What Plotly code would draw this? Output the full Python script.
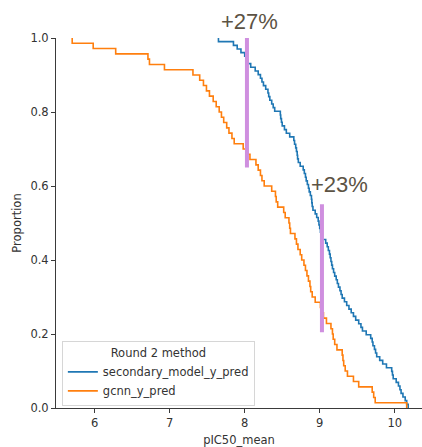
import numpy as np
import plotly.graph_objects as go

# ---- data ----
series_names = ["secondary_model_y_pred", "gcnn_y_pred"]
series_colors = ["#1f77b4", "#ff7f0e"]

secondary_model_y_pred = [
    7.65, 7.85, 7.90, 7.95, 8.00, 8.02, 8.04, 8.08, 8.14, 8.18,
    8.21, 8.23, 8.25, 8.28, 8.31, 8.32, 8.335, 8.36, 8.38, 8.40,
    8.475, 8.48, 8.49, 8.50, 8.53, 8.555, 8.60, 8.655, 8.665, 8.68,
    8.69, 8.70, 8.705, 8.715, 8.74, 8.78, 8.795, 8.81, 8.82, 8.835,
    8.85, 8.86, 8.875, 8.89, 8.895, 8.90, 8.91, 8.94, 8.96, 8.98,
    8.99, 9.00, 9.01, 9.02, 9.03, 9.08, 9.10, 9.115, 9.13, 9.14,
    9.15, 9.16, 9.17, 9.185, 9.20, 9.22, 9.235, 9.25, 9.27, 9.285,
    9.30, 9.33, 9.36, 9.39, 9.42, 9.45, 9.48, 9.52, 9.55, 9.57,
    9.62, 9.68, 9.70, 9.71, 9.73, 9.745, 9.76, 9.80, 9.84, 9.89,
    9.96, 9.97, 9.98, 10.02, 10.05, 10.07, 10.085, 10.11, 10.14, 10.16,
    10.18,
]

gcnn_y_pred = [
    5.70, 5.98, 6.28, 6.71, 6.73, 6.93, 7.31, 7.40, 7.45, 7.49,
    7.53, 7.58, 7.62, 7.66, 7.69, 7.72, 7.76, 7.79, 7.83, 7.86,
    7.98, 8.04, 8.07, 8.15, 8.18, 8.21, 8.23, 8.26, 8.36, 8.41,
    8.42, 8.44, 8.52, 8.54, 8.59, 8.60, 8.61, 8.67, 8.69, 8.71,
    8.74, 8.76, 8.79, 8.81, 8.83, 8.85, 8.87, 8.88, 8.90, 8.94,
    9.01, 9.03, 9.05, 9.09, 9.15, 9.17, 9.18, 9.20, 9.23, 9.30,
    9.31, 9.32, 9.34, 9.37, 9.45, 9.52, 9.70, 9.72, 9.74, 10.16,
]

# highlight bars and their labels
bar_x = [8.03, 9.03]
bar_y_low = [0.65, 0.205]
bar_y_high = [1.0, 0.551]
label_text = ["+27%", "+23%"]
label_x = [8.06, 9.27]
label_y = [1.045, 0.603]

x_ticks = [6, 7, 8, 9, 10]
y_ticks = [0.0, 0.2, 0.4, 0.6, 0.8, 1.0]

# ---- figure ----
fig = go.Figure()

for name, color, vals in zip(series_names, series_colors,
                             [secondary_model_y_pred, gcnn_y_pred]):
    xs = np.sort(np.asarray(vals, dtype=float))
    n = len(xs)
    y_after = 1.0 - np.arange(1, n + 1) / n  # complementary ECDF
    px_ = np.r_[xs[0], xs]
    py_ = np.r_[1.0, y_after]
    fig.add_trace(go.Scatter(
        x=px_, y=py_, mode="lines", name=name,
        line=dict(color=color, width=1.6, shape="hv"),
    ))

for bx, y0, y1 in zip(bar_x, bar_y_low, bar_y_high):
    fig.add_shape(type="line", xref="x", yref="y", x0=bx, x1=bx, y0=y0, y1=y1,
                  line=dict(color="#cf8fdf", width=4), layer="above")

# y axis spans exactly [0, 1], so the paper reference equals the data value
for t, lx, ly in zip(label_text, label_x, label_y):
    fig.add_annotation(x=lx, y=ly, xref="x", yref="paper", text=t, showarrow=False,
                       font=dict(family="Liberation Sans", size=22, color="#5c5344"),
                       xanchor="center", yanchor="middle")

tick_font = dict(family="DejaVu Sans", size=11.5, color="#333333")
fig.update_layout(
    width=422, height=447,
    margin=dict(l=56, r=0, t=38, b=39, autoexpand=False),
    paper_bgcolor="white", plot_bgcolor="white",
    font=tick_font,
    showlegend=True,
    legend=dict(
        x=0.016, y=0.18, xanchor="left", yanchor="top",
        bgcolor="rgba(255,255,255,0.85)", bordercolor="#d6d6d6", borderwidth=1,
        font=dict(family="DejaVu Sans", size=11.5, color="#333333"),
        title=dict(text="Round 2 method", side="top center",
                   font=dict(family="DejaVu Sans", size=11.5, color="#333333")),
        tracegroupgap=0,
    ),
    xaxis=dict(
        range=[5.484, 10.364], tickvals=x_ticks, ticktext=[str(v) for v in x_ticks],
        showgrid=False, zeroline=False, showline=True, linecolor="#3a3a3a", linewidth=1,
        ticks="outside", ticklen=4, tickcolor="#3a3a3a", tickfont=tick_font,
        title=dict(text="pIC50_mean", font=tick_font, standoff=7),
    ),
    yaxis=dict(
        range=[0, 1], tickvals=y_ticks, ticktext=[f"{v:.1f}" for v in y_ticks],
        showgrid=False, zeroline=False, showline=True, linecolor="#3a3a3a", linewidth=1,
        ticks="outside", ticklen=4, tickcolor="#3a3a3a", tickfont=tick_font,
        title=dict(text="Proportion", font=tick_font, standoff=6),
    ),
)

fig.write_html("out.html", config={"displayModeBar": False},
               post_script="document.body.style.margin='0';")
